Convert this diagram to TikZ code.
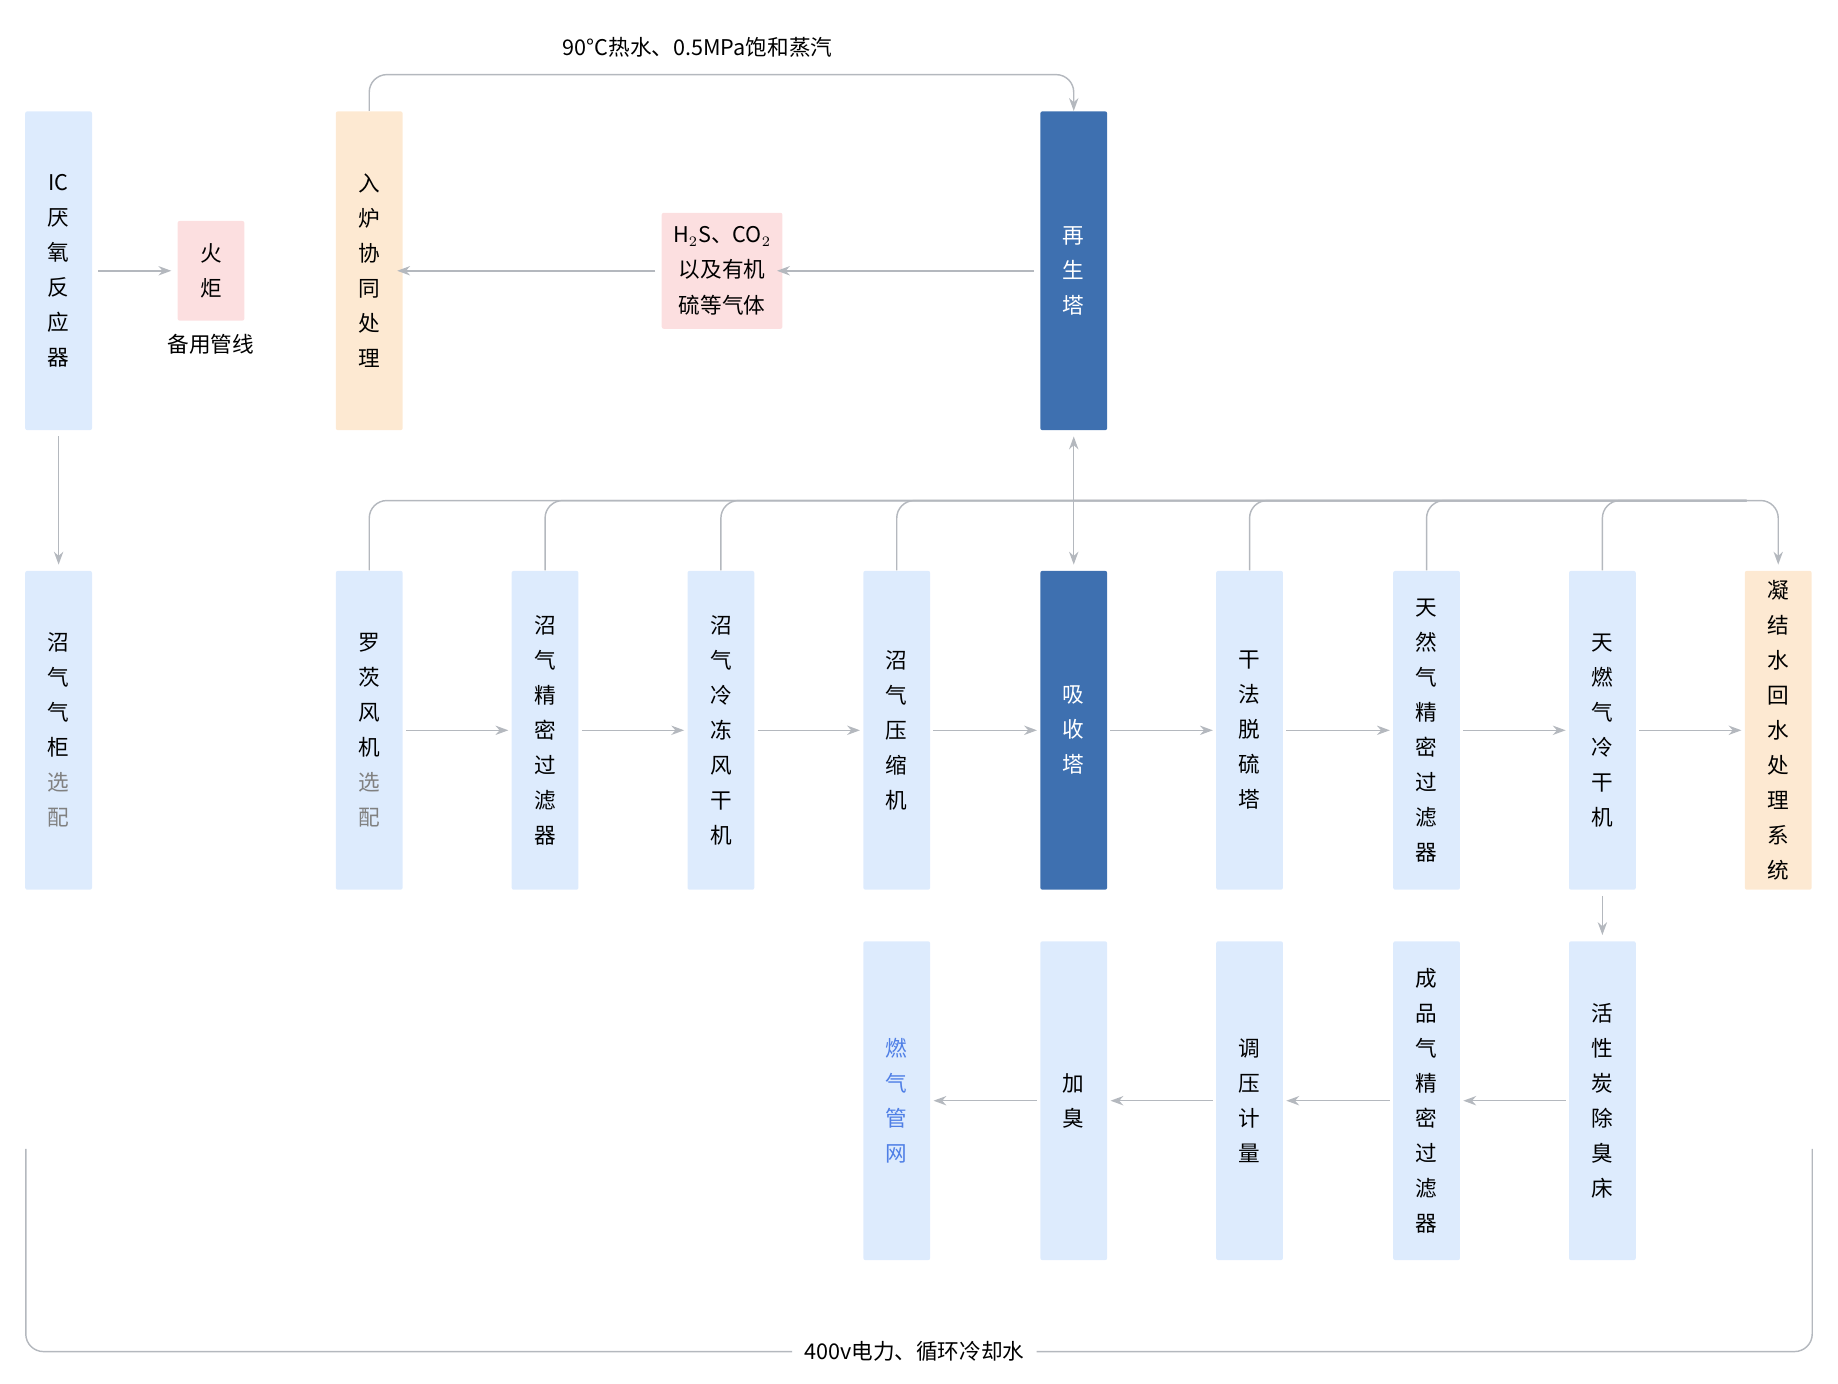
\documentclass[tikz,border=0pt]{standalone}
\usepackage{fontspec}
\setmainfont{Noto Sans CJK SC}
\usetikzlibrary{arrows.meta,positioning}
\definecolor{lblue}{HTML}{DDEBFD}
\definecolor{dblue}{HTML}{3E70B0}
\definecolor{lorange}{HTML}{FDE9D2}
\definecolor{lpink}{HTML}{FCDFE0}
\definecolor{lgray}{HTML}{B4B8BE}
\definecolor{tblue}{HTML}{4F7FE6}
\begin{document}
\begin{tikzpicture}[x=0.2mm,y=-0.2mm,
  box/.style={rectangle,rounded corners=1pt,fill=lblue,minimum width=11.4mm,minimum height=54.4mm,align=center,inner sep=0pt,font=\fontsize{10.5pt}{17pt}\selectfont},
  dark/.style={box,fill=dblue,text=white},
  warm/.style={box,fill=lorange},
  arr/.style={draw=lgray,line width=0.7pt,-{Stealth[length=2.2mm,width=1.6mm]}},
  ln/.style={draw=lgray,line width=0.7pt,rounded corners=3mm},
  lab/.style={font=\fontsize{10.5pt}{13pt}\selectfont}]
\useasboundingbox (0,0) rectangle (1568,1180);
% top row
\node[box] (ic) at (50,231) {IC\\厌\\氧\\反\\应\\器};
\node[box,fill=lpink,minimum height=17mm] (torch) at (180,231) {火\\炬};
\node[lab] (spare) at (180,294) {备用管线};
\node[warm] (furnace) at (315,231) {入\\炉\\协\\同\\处\\理};
\node[box,fill=lpink,minimum width=20.6mm,minimum height=19.8mm] (gas) at (616,231) {H$_2$S、CO$_2$\\以及有机\\硫等气体};
\node[dark] (regen) at (916,231) {再\\生\\塔};
\node[lab] (steam) at (595,40) {90°C热水、0.5MPa饱和蒸汽};
% middle row
\node[box] (holder) at (50,623) {沼\\气\\气\\柜\\\textcolor{gray}{选}\\\textcolor{gray}{配}};
\node[box] (blower) at (315,623) {罗\\茨\\风\\机\\\textcolor{gray}{选}\\\textcolor{gray}{配}};
\node[box] (filter1) at (465,623) {沼\\气\\精\\密\\过\\滤\\器};
\node[box] (dryer1) at (615,623) {沼\\气\\冷\\冻\\风\\干\\机};
\node[box] (comp) at (765,623) {沼\\气\\压\\缩\\机};
\node[dark] (absorb) at (916,623) {吸\\收\\塔};
\node[box] (desulf) at (1066,623) {干\\法\\脱\\硫\\塔};
\node[box] (filter2) at (1217,623) {天\\然\\气\\精\\密\\过\\滤\\器};
\node[box] (dryer2) at (1367,623) {天\\燃\\气\\冷\\干\\机};
\node[warm] (cond) at (1517,623) {凝\\结\\水\\回\\水\\处\\理\\系\\统};
% bottom row
\node[box,text=tblue] (grid) at (765,939) {燃\\气\\管\\网};
\node[box] (odor) at (916,939) {加\\臭};
\node[box] (meter) at (1066,939) {调\\压\\计\\量};
\node[box] (filter3) at (1217,939) {成\\品\\气\\精\\密\\过\\滤\\器};
\node[box] (carbon) at (1367,939) {活\\性\\炭\\除\\臭\\床};
\node[lab,fill=white,inner xsep=2mm] (power) at (780,1153) {400v电力、循环冷却水};
% connectors
\draw[arr,rounded corners=3mm] (furnace.north) -- ++(0,-31) -| (regen.north);
\draw[arr] ([xshift=1mm]ic.east) -- ([xshift=-1mm]torch.west);
\draw[arr] ([xshift=-1mm]regen.west) -- ([xshift=-1mm]gas.east);
\draw[arr] ([xshift=-1mm]gas.west) -- ([xshift=-1mm]furnace.east);
\draw[arr] ([yshift=-1mm]ic.south) -- ([yshift=1mm]holder.north);
\draw[arr,{Stealth[length=2.2mm,width=1.6mm]}-{Stealth[length=2.2mm,width=1.6mm]}] ([yshift=-1mm]regen.south) -- ([yshift=1mm]absorb.north);
\foreach \n in {blower,filter1,dryer1,comp,desulf,filter2,dryer2}
  \draw[ln] (\n.north) |- (1490,427);
\draw[arr,rounded corners=3mm] (916,427) -| ([yshift=1mm]cond.north);
\foreach \a/\b in {blower/filter1,filter1/dryer1,dryer1/comp,comp/absorb,absorb/desulf,desulf/filter2,filter2/dryer2,dryer2/cond}
  \draw[arr] ([xshift=0.5mm]\a.east) -- ([xshift=-0.5mm]\b.west);
\draw[arr] ([yshift=-1mm]dryer2.south) -- ([yshift=1mm]carbon.north);
\foreach \a/\b in {carbon/filter3,filter3/meter,meter/odor,odor/grid}
  \draw[arr] ([xshift=-0.5mm]\a.west) -- ([xshift=0.5mm]\b.east);
\draw[ln] (22,980) -- (22,1153) -- (power.west);
\draw[ln] (power.east) -- (1546,1153) -- (1546,980);
\end{tikzpicture}
\end{document}
